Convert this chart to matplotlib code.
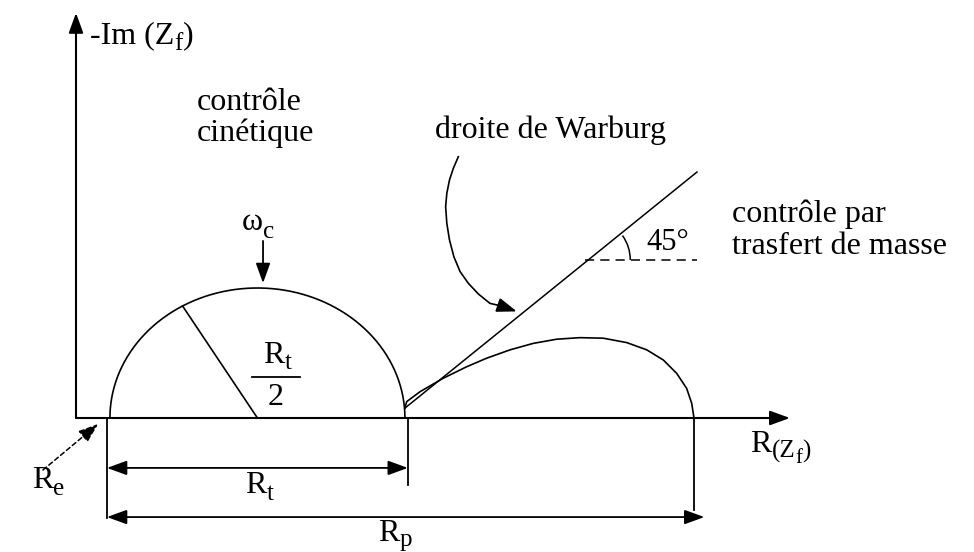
import numpy as np
import matplotlib.pyplot as plt
from matplotlib.patches import Arc

plt.rcParams['font.family'] = ['Liberation Serif', 'DejaVu Serif']

# resistances, arbitrary units (R_t = 10)
Re = 1.15
Rt = 10.0
Rp = 19.8

# diffusion arc
arc2_x = [11.15, 11.21, 11.66, 12.45, 13.24, 13.92, 14.71, 15.50, 16.29, 17.08,
          17.87, 18.67, 19.35, 19.91, 20.36, 20.70, 20.87, 20.95]
arc2_y = [0.38, 0.63, 1.01, 1.53, 1.97, 2.30, 2.62, 2.87, 3.03, 3.09,
          3.07, 2.90, 2.62, 2.23, 1.72, 1.14, 0.57, 0.0]

# Warburg straight line (45 deg)
warb_x = [11.15, 21.05]
warb_y = [0.38, 9.46]

# hooked pointer from the "droite de Warburg" label
hook_x = [12.96, 12.79, 12.66, 12.57, 12.53, 12.57, 12.66, 12.81, 13.02, 13.30,
          13.64, 14.03, 14.37]
hook_y = [10.05, 9.60, 9.15, 8.64, 8.13, 7.49, 6.85, 6.20, 5.63, 5.18,
          4.77, 4.41, 4.32]
hook_tip = (14.94, 4.10)

x_axis_end = 24.2
y_axis_end = 15.58
radius_angle = 120.5   # degrees
omega_x = 6.34

fig = plt.figure(figsize=(9.74, 5.52), dpi=100)
ax = fig.add_axes([0, 0, 1, 1])
ax.set_xlim(-76 / 29.5, (974 - 76) / 29.5)
ax.set_ylim((418 - 552) / 26, 418 / 26)
ax.axis('off')

k = 'black'
FS = 23     # main text size
SS = 18     # subscript size
DROP = 0.27  # subscript drop, data units
head = '-|>,head_length=0.55,head_width=0.2'
both = '<|-|>,head_length=0.55,head_width=0.2'


def arrow(p0, p1, style=head, lw=1.3, ls='-'):
    ax.annotate('', xy=p1, xytext=p0,
                arrowprops=dict(arrowstyle=style, color=k, lw=lw, ls=ls,
                                mutation_scale=22, shrinkA=0, shrinkB=0))


def chain(x, y, pieces):
    # pieces: (text, size, drop) written one after the other on baseline y
    prev = None
    for s, size, drop in pieces:
        if prev is None:
            prev = ax.text(x, y - drop, s, fontsize=size, ha='left', va='baseline')
        else:
            prev = ax.annotate(s, xy=(1, y - drop), xycoords=(prev, 'data'),
                               fontsize=size, ha='left', va='baseline')
    return prev


# axes
arrow((0, 0), (x_axis_end, 0), lw=1.5)
arrow((0, 0), (0, y_axis_end), lw=1.5)

# charge transfer semicircle
th = np.linspace(0, np.pi, 300)
cx = Re + Rt / 2
ax.plot(cx + Rt / 2 * np.cos(th), Rt / 2 * np.sin(th), color=k, lw=1.2)
a = np.radians(radius_angle)
ax.plot([cx, cx + Rt / 2 * np.cos(a)], [0, Rt / 2 * np.sin(a)], color=k, lw=1.2)

# Warburg line and diffusion arc
ax.plot(warb_x, warb_y, color=k, lw=1.1)
ax.plot(arc2_x, arc2_y, color=k, lw=1.2)

# 45 degree mark
slope = (warb_y[1] - warb_y[0]) / (warb_x[1] - warb_x[0])
yd = 6.08
xd = warb_x[0] + (yd - warb_y[0]) / slope
ax.plot([xd - 0.1, warb_x[1]], [yd, yd], color=k, lw=1.1, ls=(0, (6, 4)))
ang = np.degrees(np.arctan(slope * 26 / 29.5))
ax.add_patch(Arc((xd, yd), 2 * 42 / 29.5, 2 * 42 / 26, theta1=0, theta2=ang,
                 color=k, lw=1.1))
ax.text(xd + 1.97, 6.46, '45°', fontsize=22, ha='left', va='baseline')

# pointer to the Warburg line
ax.plot(hook_x, hook_y, color=k, lw=1.2)
arrow((hook_x[-1], hook_y[-1]), hook_tip)

# omega_c marker
arrow((omega_x, 6.81), (omega_x, 5.19))
chain(5.62, 7.25, [('ω', FS, 0), ('c', SS, 0.32)])

# R_t / 2
chain(6.34, 2.12, [('R', FS, 0), ('t', SS, 0.22)])
ax.plot([5.98, 7.59], [1.58, 1.58], color=k, lw=1.3)
ax.text(6.76, 0.5, '2', fontsize=FS, ha='center', va='baseline')

# dimension lines
ax.plot([Re - 0.1, Re - 0.1], [0, -3.85], color=k, lw=1.3)
ax.plot([Re + Rt + 0.1, Re + Rt + 0.1], [0, -2.58], color=k, lw=1.3)
ax.plot([Re + Rp, Re + Rp], [0, -3.54], color=k, lw=1.3)
arrow((Re - 0.1, -1.92), (Re + Rt + 0.1, -1.92), style=both)
arrow((Re - 0.1, -3.81), (Re + Rp + 0.35, -3.81), style=both)
chain(5.73, -2.88, [('R', FS, 0), ('t', SS, DROP)])
chain(10.24, -4.72, [('R', FS, 0), ('p', SS, 0.2)])

# R_e pointer
arrow((-1.12, -2.0), (0.75, -0.23), lw=1.1, ls=(0, (3, 2)))
chain(-1.49, -2.69, [('R', FS, 0), ('e', SS, DROP)])

# axis labels
chain(0.47, 14.42, [('-Im (Z', FS, 0), ('f', SS, DROP), (')', FS, 0)])
chain(22.85, -1.31, [('R', FS, 0), ('(Z', SS, 0.2), ('f', 15, 0.42), (')', SS, 0.2)])

# region labels
ax.text(4.10, 11.85, 'contrôle', fontsize=FS, ha='left', va='baseline')
ax.text(4.10, 10.65, 'cinétique', fontsize=FS, ha='left', va='baseline')
ax.text(12.17, 10.78, 'droite de Warburg', fontsize=FS, ha='left', va='baseline')
ax.text(22.24, 7.54, 'contrôle par', fontsize=FS, ha='left', va='baseline')
ax.text(22.24, 6.31, 'trasfert de masse', fontsize=FS, ha='left', va='baseline')

fig.savefig('out.png', dpi=100)
